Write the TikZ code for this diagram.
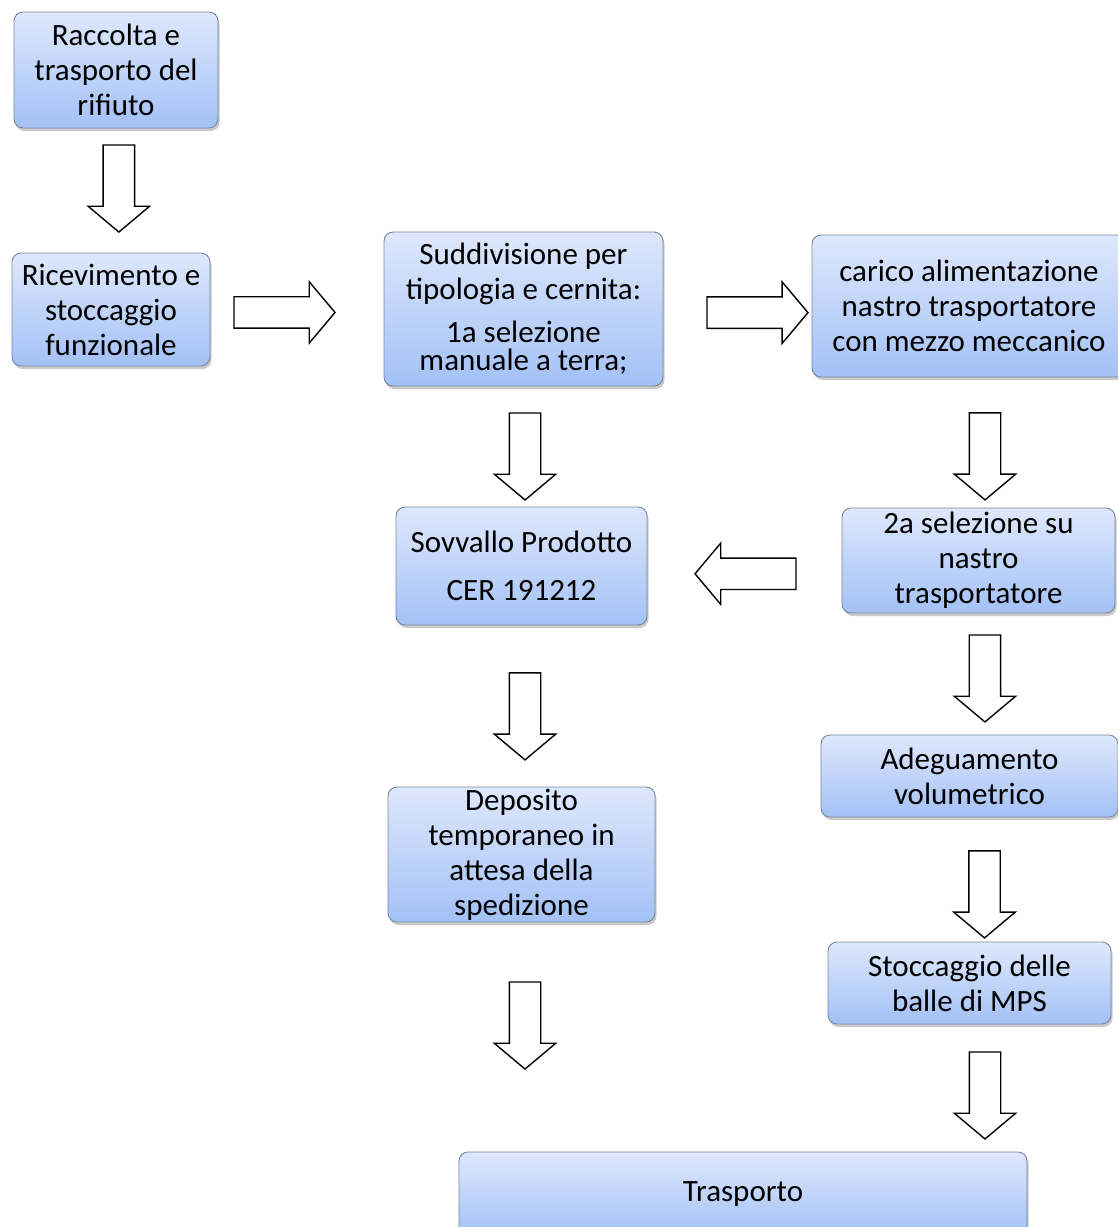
\documentclass[tikz,border=0pt]{standalone}
\usepackage{fontspec}
\setmainfont{Carlito}
\usetikzlibrary{calc,shapes.arrows,shadows}
\definecolor{boxtop}{RGB}{222,232,252}
\definecolor{boxbottom}{RGB}{163,193,246}
\definecolor{boxline}{RGB}{120,134,158}
\tikzset{
	box/.style={draw=boxline, line width=0.9pt, rounded corners=9pt, top color=boxtop, bottom color=boxbottom,
		drop shadow={shadow xshift=1.5pt, shadow yshift=-3pt, opacity=0.35, fill=black!60},
		align=center, inner sep=0pt, font=\fontsize{31}{35}\selectfont},
	flow/.style={single arrow, draw=black, fill=white, line width=1.4pt, minimum height=87pt, minimum width=0pt,
		inner xsep=0pt, inner ysep=15pt, single arrow head extend=15pt, single arrow tip angle=100, anchor=tail},
	flowlong/.style={flow, minimum height=101pt},
}

\begin{document}
\begin{tikzpicture}[x=1pt, y=-1pt]
		%%%%% START %%%%%
		
		\useasboundingbox (0, 0) rectangle (1118, 1227);
		
		\node[box, minimum width=204pt, minimum height=116pt] (raccolta) at (116, 70) {Raccolta e\\trasporto del\\rifiuto};
		\node[box, minimum width=198pt, minimum height=113pt] (ricevimento) at (111, 309.5) {Ricevimento e\\stoccaggio\\funzionale};
		\node[box, minimum width=279pt, minimum height=154pt] (suddivisione) at (523.5, 309) {Suddivisione per\\tipologia e cernita:\\[8pt]1a selezione\\[-7pt]manuale a terra;};
		\node[box, minimum width=314pt, minimum height=142pt] (carico) at (969, 306) {carico alimentazione\\nastro trasportatore\\con mezzo meccanico};
		
		\node[box, minimum width=251pt, minimum height=118pt] (sovvallo) at (521.5, 566) {Sovvallo Prodotto\\[13pt]CER 191212};
		\node[box, minimum width=273pt, minimum height=105pt] (selezione) at (978.5, 560.5) {2a selezione su\\nastro\\trasportatore};
		\node[box, minimum width=297pt, minimum height=82pt] (adeguamento) at (969.5, 776) {Adeguamento\\volumetrico};
		\node[box, minimum width=267pt, minimum height=135pt] (deposito) at (521.5, 854.5) {Deposito\\temporaneo in\\attesa della\\spedizione};
		\node[box, minimum width=283pt, minimum height=82pt] (stoccaggio) at (969.5, 983) {Stoccaggio delle\\balle di MPS};
		\node[box, minimum width=568pt, minimum height=84pt] (trasporto) at (743, 1194) {Trasporto};
		
		% block arrows
		\path (raccolta.south) -- (ricevimento.north) node[flow, pos=0.128, xshift=3.5pt, rotate=-90] (f1) {};
		\path (ricevimento.east) -- (suddivisione.west) node[flowlong, pos=0.132, yshift=-3pt] (f2) {};
		\path (suddivisione.east) -- (carico.west) node[flowlong, pos=0.289, yshift=-4.5pt] (f3) {};
		\path (suddivisione.south) -- (sovvallo.north) node[flow, pos=0.215, xshift=2pt, rotate=-90] (f4) {};
		\path (carico.south) -- (selezione.north) node[flow, pos=0.267, xshift=13.5pt, rotate=-90] (f5) {};
		\path (selezione.west) -- (sovvallo.east) node[flowlong, pos=0.231, yshift=-12pt, rotate=180] (f6) {};
		\path (sovvallo.south) -- (deposito.north) node[flow, pos=0.29, xshift=3.5pt, rotate=-90] (f7) {};
		\path (selezione.south) -- (adeguamento.north) node[flow, pos=0.172, xshift=8pt, rotate=-90] (f8) {};
		\path (adeguamento.south) -- (stoccaggio.north) node[flow, pos=0.264, xshift=15pt, rotate=-90] (f9) {};
		\path (deposito.south) -- (deposito.south |- trasporto.north) node[flow, pos=0.257, xshift=3.5pt, rotate=-90] (f10) {};
		\path (stoccaggio.south) -- (stoccaggio.south |- trasporto.north) node[flow, pos=0.211, xshift=15.5pt, rotate=-90] (f11) {};
		
		%%%%% END %%%%%
	\end{tikzpicture}
\end{document}
